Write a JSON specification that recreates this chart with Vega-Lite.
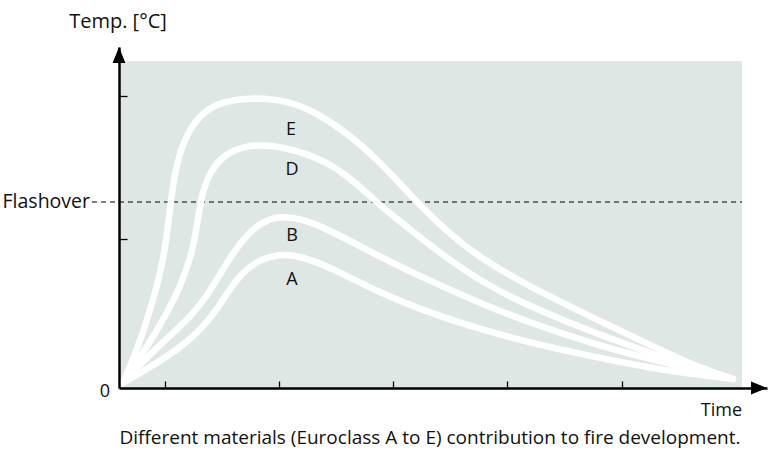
{
  "$schema": "https://vega.github.io/schema/vega-lite/v6.json",
  "width": 648,
  "height": 341,
  "autosize": "none",
  "padding": {"left": 119, "top": 47, "right": 1, "bottom": 66},
  "background": "#ffffff",
  "config": {"view": {"stroke": null}, "font": "Open Sans"},
  "encoding": {
    "x": {
      "field": "x", "type": "quantitative",
      "scale": {"domain": [0, 648], "nice": false, "zero": false},
      "axis": {"domain": true, "domainColor": "#000000", "domainWidth": 2.5, "ticks": true, "tickColor": "#000000", "tickWidth": 1.3, "tickSize": -7, "values": [46, 160, 274, 388, 503], "labels": false, "grid": false, "title": null, "zindex": 2}
    },
    "y": {
      "field": "y", "type": "quantitative",
      "scale": {"domain": [0, 341], "nice": false, "zero": false},
      "axis": {"domain": true, "domainColor": "#000000", "domainWidth": 2.5, "ticks": true, "tickColor": "#000000", "tickWidth": 1.3, "tickSize": -8, "values": [149, 292], "labels": false, "grid": false, "title": null, "zindex": 2}
    }
  },
  "layer": [
    {
      "data": {"values": [{"x": 0, "x2": 623, "y": 0, "y2": 327}]},
      "mark": {"type": "rect", "fill": "#dee7e3"},
      "encoding": {"x2": {"field": "x2"}, "y2": {"field": "y2"}}
    },
    {
      "data": {"values": [{"x": -27, "x2": 623, "y": 186}]},
      "mark": {"type": "rule", "stroke": "#000000", "strokeWidth": 1.2, "strokeDash": [5, 4]},
      "encoding": {"x2": {"field": "x2"}}
    },
    {
      "data": {"values": [
        {"series": "E", "x": 4, "y": 5}, {"series": "E", "x": 18, "y": 38}, {"series": "E", "x": 29, "y": 71}, {"series": "E", "x": 39, "y": 105}, {"series": "E", "x": 46, "y": 138}, {"series": "E", "x": 49, "y": 163}, {"series": "E", "x": 52, "y": 188}, {"series": "E", "x": 56, "y": 216}, {"series": "E", "x": 63, "y": 243}, {"series": "E", "x": 76, "y": 268}, {"series": "E", "x": 96, "y": 285}, {"series": "E", "x": 131, "y": 291}, {"series": "E", "x": 171, "y": 287}, {"series": "E", "x": 198, "y": 275}, {"series": "E", "x": 231, "y": 253}, {"series": "E", "x": 261, "y": 226}, {"series": "E", "x": 294, "y": 190}, {"series": "E", "x": 328, "y": 156}, {"series": "E", "x": 361, "y": 130}, {"series": "E", "x": 411, "y": 101}, {"series": "E", "x": 481, "y": 67}, {"series": "E", "x": 531, "y": 43}, {"series": "E", "x": 581, "y": 20}, {"series": "E", "x": 614, "y": 9},
        {"series": "D", "x": 4, "y": 5}, {"series": "D", "x": 26, "y": 38}, {"series": "D", "x": 46, "y": 71}, {"series": "D", "x": 63, "y": 105}, {"series": "D", "x": 74, "y": 138}, {"series": "D", "x": 79, "y": 170}, {"series": "D", "x": 83, "y": 195}, {"series": "D", "x": 92, "y": 218}, {"series": "D", "x": 105, "y": 233}, {"series": "D", "x": 125, "y": 242}, {"series": "D", "x": 151, "y": 244}, {"series": "D", "x": 198, "y": 232}, {"series": "D", "x": 231, "y": 211}, {"series": "D", "x": 258, "y": 185}, {"series": "D", "x": 294, "y": 156}, {"series": "D", "x": 328, "y": 130}, {"series": "D", "x": 361, "y": 107}, {"series": "D", "x": 411, "y": 81}, {"series": "D", "x": 481, "y": 53}, {"series": "D", "x": 531, "y": 35}, {"series": "D", "x": 581, "y": 18}, {"series": "D", "x": 614, "y": 9},
        {"series": "B", "x": 4, "y": 5}, {"series": "B", "x": 30, "y": 33}, {"series": "B", "x": 52, "y": 53}, {"series": "B", "x": 72, "y": 72}, {"series": "B", "x": 88, "y": 92}, {"series": "B", "x": 100, "y": 112}, {"series": "B", "x": 112, "y": 132}, {"series": "B", "x": 126, "y": 151}, {"series": "B", "x": 141, "y": 165}, {"series": "B", "x": 159, "y": 172}, {"series": "B", "x": 181, "y": 170}, {"series": "B", "x": 211, "y": 158}, {"series": "B", "x": 261, "y": 131}, {"series": "B", "x": 311, "y": 107}, {"series": "B", "x": 361, "y": 85}, {"series": "B", "x": 411, "y": 65}, {"series": "B", "x": 481, "y": 42}, {"series": "B", "x": 531, "y": 29}, {"series": "B", "x": 581, "y": 17}, {"series": "B", "x": 614, "y": 9},
        {"series": "A", "x": 4, "y": 5}, {"series": "A", "x": 30, "y": 20}, {"series": "A", "x": 55, "y": 36}, {"series": "A", "x": 75, "y": 52}, {"series": "A", "x": 90, "y": 68}, {"series": "A", "x": 102, "y": 85}, {"series": "A", "x": 113, "y": 102}, {"series": "A", "x": 125, "y": 117}, {"series": "A", "x": 140, "y": 128}, {"series": "A", "x": 160, "y": 134}, {"series": "A", "x": 181, "y": 132}, {"series": "A", "x": 211, "y": 121}, {"series": "A", "x": 261, "y": 95}, {"series": "A", "x": 311, "y": 75}, {"series": "A", "x": 361, "y": 59}, {"series": "A", "x": 411, "y": 45}, {"series": "A", "x": 481, "y": 30}, {"series": "A", "x": 531, "y": 20}, {"series": "A", "x": 581, "y": 13}, {"series": "A", "x": 614, "y": 9}
      ]},
      "mark": {"type": "line", "interpolate": "basis", "color": "#ffffff", "strokeWidth": 6.5, "strokeCap": "round", "strokeJoin": "round"},
      "encoding": {"detail": {"field": "series"}, "order": {"field": "x", "type": "quantitative"}}
    },
    {
      "data": {"values": [{"x": 0, "y": 333, "shape": "up"}]},
      "mark": {"type": "point", "shape": "M0,-1L0.8,1L-0.8,1Z", "size": 256, "filled": true, "color": "#000000", "opacity": 1}
    },
    {
      "data": {"values": [{"x": 640, "y": 0, "shape": "right"}]},
      "mark": {"type": "point", "shape": "M1,0L-1,0.8L-1,-0.8Z", "size": 256, "filled": true, "color": "#000000", "opacity": 1}
    },
    {
      "data": {"values": [
        {"x": 172, "y": 258, "label": "E"},
        {"x": 173, "y": 218, "label": "D"},
        {"x": 173, "y": 152, "label": "B"},
        {"x": 173, "y": 108, "label": "A"},
        {"x": -14, "y": -4, "label": "0"}
      ]},
      "mark": {"type": "text", "align": "center", "baseline": "middle", "fontSize": 18, "color": "#111111"},
      "encoding": {"text": {"field": "label"}}
    },
    {
      "data": {"values": [{"x": -1, "y": 366, "label": "Temp. [°C]"}]},
      "mark": {"type": "text", "align": "center", "baseline": "middle", "fontSize": 20, "color": "#111111"},
      "encoding": {"text": {"field": "label"}}
    },
    {
      "data": {"values": [{"x": -29, "y": 186, "label": "Flashover"}]},
      "mark": {"type": "text", "align": "right", "baseline": "middle", "fontSize": 19.5, "color": "#111111"},
      "encoding": {"text": {"field": "label"}}
    },
    {
      "data": {"values": [{"x": 623, "y": -23, "label": "Time"}]},
      "mark": {"type": "text", "align": "right", "baseline": "middle", "fontSize": 18, "color": "#111111"},
      "encoding": {"text": {"field": "label"}}
    },
    {
      "data": {"values": [{"x": 311, "y": -50, "label": "Different materials (Euroclass A to E) contribution to fire development."}]},
      "mark": {"type": "text", "align": "center", "baseline": "middle", "fontSize": 19, "color": "#111111"},
      "encoding": {"text": {"field": "label"}}
    }
  ]
}
